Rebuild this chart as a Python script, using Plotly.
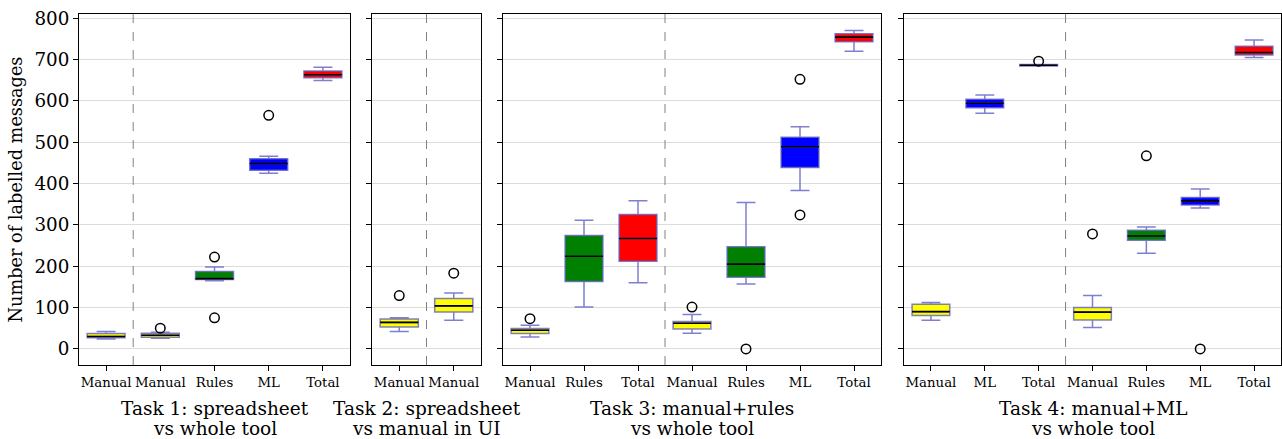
import plotly.graph_objects as go

# ---------------- data ----------------
panel1_labels = ["Manual", "Manual", "Rules", "ML", "Total"]
panel1_lower = [24, 26, 165, 425, 649]
panel1_q1 = [27, 28, 168, 432, 656]
panel1_median = [30, 33, 170, 448, 663]
panel1_q3 = [37, 38, 187, 460, 672]
panel1_upper = [42, 40, 198, 466, 681]
panel1_outliers = [[], [50], [222, 75], [565], []]

panel2_labels = ["Manual", "Manual"]
panel2_lower = [42, 69]
panel2_q1 = [53, 89]
panel2_median = [64, 104]
panel2_q3 = [72, 122]
panel2_upper = [75, 135]
panel2_outliers = [[129], [183]]

panel3_labels = ["Manual", "Rules", "Total", "Manual", "Rules", "ML", "Total"]
panel3_lower = [29, 101, 160, 38, 157, 383, 720]
panel3_q1 = [37, 163, 212, 48, 173, 439, 743]
panel3_median = [45, 224, 267, 62, 205, 489, 754]
panel3_q3 = [49, 274, 325, 66, 247, 512, 762]
panel3_upper = [57, 311, 358, 83, 354, 537, 770]
panel3_outliers = [[73], [], [], [101], [0], [652, 324], []]

panel4_labels = ["Manual", "ML", "Total", "Manual", "Rules", "ML", "Total"]
panel4_lower = [69, 570, 684, 52, 231, 341, 705]
panel4_q1 = [81, 583, 684, 70, 263, 348, 711]
panel4_median = [90, 594, 686, 89, 273, 358, 717]
panel4_q3 = [108, 604, 688, 100, 287, 366, 732]
panel4_upper = [112, 614, 688, 129, 295, 387, 747]
panel4_outliers = [[], [], [696], [278], [467], [0], []]

panel_titles = [["Task 1: spreadsheet", "vs whole tool"],
                ["Task 2: spreadsheet", "vs manual in UI"],
                ["Task 3: manual+rules", "vs whole tool"],
                ["Task 4: manual+ML", "vs whole tool"]]
separators = [0.5, 0.5, 2.5, 2.5]

y_ticks = [0, 100, 200, 300, 400, 500, 600, 700, 800]
y_title = "Number of labelled messages"

colors = {"Manual": "#ffff00", "Rules": "#008000", "ML": "#0000ff", "Total": "#ff0000"}
edge = "rgba(95,95,195,0.8)"

panels = [
    (panel1_labels, panel1_lower, panel1_q1, panel1_median, panel1_q3, panel1_upper, panel1_outliers),
    (panel2_labels, panel2_lower, panel2_q1, panel2_median, panel2_q3, panel2_upper, panel2_outliers),
    (panel3_labels, panel3_lower, panel3_q1, panel3_median, panel3_q3, panel3_upper, panel3_outliers),
    (panel4_labels, panel4_lower, panel4_q1, panel4_median, panel4_q3, panel4_upper, panel4_outliers),
]

W, H = 1282, 439
px_domains = [(79, 350), (372, 481), (503, 881), (904, 1281)]
y_dom = [(H - 365) / H, (H - 14) / H]
box_w = 0.7
FONT = "DejaVu Serif"

fig = go.Figure()
layout = dict(
    width=W, height=H, margin=dict(l=0, r=0, t=0, b=0, autoexpand=False),
    plot_bgcolor="white", paper_bgcolor="white", showlegend=False,
    font=dict(family=FONT, color="black"),
    shapes=[], annotations=[],
)

for p, (labels, lo, q1, med, q3, up, outs) in enumerate(panels):
    ax = "" if p == 0 else str(p + 1)
    xref, yref = "x" + ax, "y" + ax
    n = len(labels)
    for i in range(n):
        c = colors[labels[i]]
        fig.add_trace(go.Box(
            x=[i], q1=[q1[i]], median=[med[i]], q3=[q3[i]],
            lowerfence=[lo[i]], upperfence=[up[i]],
            width=box_w, whiskerwidth=0.5, fillcolor=c,
            line=dict(color=edge, width=1.5), boxpoints=False,
            hoverinfo="skip", xaxis=xref, yaxis=yref,
        ))
        fig.add_trace(go.Scatter(
            x=[i - box_w / 2, i + box_w / 2], y=[med[i], med[i]], mode="lines",
            line=dict(color="black", width=1.6), hoverinfo="skip",
            xaxis=xref, yaxis=yref,
        ))
        if outs[i]:
            fig.add_trace(go.Scatter(
                x=[i] * len(outs[i]), y=outs[i], mode="markers",
                marker=dict(symbol="circle-open", size=9.5, color="black",
                            line=dict(width=1.5, color="black")),
                hoverinfo="skip", xaxis=xref, yaxis=yref,
            ))
    d0, d1 = px_domains[p]
    layout["xaxis" + ax] = dict(
        domain=[d0 / W, d1 / W], range=[-0.5, n - 0.5], anchor=yref,
        tickvals=list(range(n)), ticktext=labels, ticks="outside",
        ticklen=5, tickcolor="black", showgrid=False, zeroline=False,
        showline=True, linecolor="black", linewidth=1, mirror=True,
        tickfont=dict(family=FONT, size=13.3), fixedrange=True,
    )
    layout["yaxis" + ax] = dict(
        domain=y_dom, range=[-39, 810], anchor=xref,
        tickvals=y_ticks, ticks="outside", ticklen=5, tickcolor="black",
        showticklabels=(p == 0), showgrid=True, gridcolor="#dcdcdc",
        gridwidth=1, zeroline=False, showline=True, linecolor="black",
        linewidth=1, mirror=True, tickfont=dict(family=FONT, size=18.3),
    )
    if p == 0:
        layout["yaxis"]["title"] = dict(text=y_title, font=dict(family=FONT, size=17.7), standoff=7)
    layout["shapes"].append(dict(
        type="line", xref=xref, yref="paper", x0=separators[p], x1=separators[p],
        y0=y_dom[0], y1=y_dom[1], line=dict(color="gray", width=1, dash="dash"),
    ))
    for k, (line_text, ypx) in enumerate(zip(panel_titles[p], [408.5, 428.5])):
        layout["annotations"].append(dict(
            text=line_text, xref="paper", yref="paper",
            x=(d0 + d1) / 2 / W, y=(H - ypx) / H, xanchor="center", yanchor="middle",
            showarrow=False, font=dict(family=FONT, size=18.5),
        ))

fig.update_layout(**layout)
fig.write_html("out.html", config={"displayModeBar": False},
               post_script="document.body.style.margin='0';document.body.style.overflow='hidden';")
